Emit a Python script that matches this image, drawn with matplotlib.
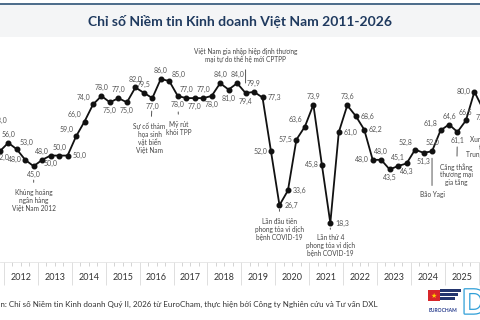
import matplotlib
matplotlib.use('Agg')
import matplotlib.pyplot as plt
from matplotlib.patches import Rectangle
import matplotlib.patheffects as pe

plt.rcParams['font.family'] = ['Lato', 'Open Sans', 'DejaVu Sans']

# Chỉ số BCI theo quý, từ Q3/2011 đến Q1/2026
nam_dau, quy_dau = 2011, 3
bci = [63.0, 52.0,
       56.0, 53.0, 48.0, 45.0,
       48.0, 50.0, 50.0, 50.0,
       59.0, 66.0, 74.0, 78.0,
       75.0, 77.0, 75.0, 82.0,
       79.5, 77.0, 86.0, 85.0,
       78.0, 77.0, 77.0, 77.0,
       78.0, 84.0, 81.0, 84.0,
       79.4, 79.9, 77.3, 52.0,
       26.7, 33.6, 57.5, 63.6,
       73.9, 45.8, 18.3, 61.0,
       73.6, 68.6, 62.2, 48.0,
       48.0, 43.5, 45.1, 46.3,
       52.8, 51.3, 52.0, 61.8,
       64.6, 61.1, 66.5, 80.0,
       72.0]
years = list(range(2011, 2027))

# vị trí nhãn số cho từng điểm
vi_tri = ['tr', 'br',
          't', 'tr', 'l', 'b',
          't', 'b', 't', 'r',
          'tl', 'tl', 'tl', 't',
          'b', 't', 'b', 't',
          't', 'b', 't', 'tr',
          'b', 't', 'b', 't',
          'b', 't', 'b', 't',
          'b', 't', 'r', 'l',
          'r', 'r', 'l', 'tl',
          't', 'l', 'r', 'r',
          't', 'r', 'r', 'l',
          't', 'b', 't', 'b',
          'tl', 'b', 't', 'tl',
          't', 'b', 't', 'l',
          'b']

# sự kiện và quý tương ứng
su_kien = ['Khủng hoảng\nngân hàng\nViệt Nam 2012',
           'Sự cố thảm\nhọa sinh\nvật biển\nViệt Nam',
           'Mỹ rút\nkhỏi TPP',
           'Việt Nam gia nhập hiệp định thương\nmại tự do thế hệ mới CPTPP',
           'Lần đầu tiên\nphong tỏa vì dịch\nbệnh COVID-19',
           'Lần thứ 4\nphong tỏa vì dịch\nbệnh COVID-19',
           'Bão Yagi',
           'Căng thẳng\nthương mại\ngia tăng',
           'Xung đột\ntại\nTrung Đông']
su_kien_quy = ['2012Q4', '2016Q2', '2017Q1', '2019Q1', '2020Q1', '2021Q3', '2024Q3', '2025Q2', '2026Q1']
# (lệch ngang, lệch dọc, khoảng hở phía chữ, khoảng hở phía điểm) tính bằng point
su_kien_kieu = [(0, -16.6, 3, 10), (-2, -17.3, 2.2, 9.4), (1, -18, 2.9, 11.5), (0, 21.6, 2.9, 7.2),
                (0, -9.4, 3, 3), (0, -8, 1.5, 3.6), (0, -28.8, 2.2, 5), (-1, -22.3, 2.9, 10.8),
                (0, -19.4, 2, 12)]

quy = []
y, q = nam_dau, quy_dau
for _ in bci:
    quy.append(f'{y}Q{q}')
    q += 1
    if q > 4:
        y, q = y + 1, 1
x = [int(s[:4]) + (int(s[-1]) - 0.5) / 4 for s in quy]

fig = plt.figure(figsize=(4.8, 3.2), dpi=100)
fig.patch.set_facecolor('white')
fig.patches.append(Rectangle((0, 1 - 37 / 320), 1, 32 / 320, transform=fig.transFigure,
                             facecolor='#f4f5f6', edgecolor='none', zorder=0))
fig.lines.append(plt.Line2D([0, 1], [1 - 4 / 320] * 2, transform=fig.transFigure,
                            color='#3d5f80', lw=1.3))
fig.text(0.5, 1 - 22 / 320, 'Chỉ số Niềm tin Kinh doanh Việt Nam 2011-2026',
         ha='center', va='center', fontsize=10, fontweight='bold', color='#1f3a5f')

ax = fig.add_axes([0, 58 / 320, 1, 222 / 320])
ax.set_facecolor('none')
for s in ['top', 'left', 'right']:
    ax.spines[s].set_visible(False)
ax.spines['bottom'].set_color('#e4e4e4')
ax.spines['bottom'].set_linewidth(0.6)
ax.set_yticks([])

ax.set_xticks(years)
ax.set_xticklabels([])
ax.set_xticks([yy + k / 4 for yy in years for k in (1, 2, 3)], minor=True)
ax.tick_params(axis='x', which='major', length=16.5, width=0.6, color='#d9d9d9')
ax.tick_params(axis='x', which='minor', length=3, width=0.6, color='#cccccc')
ax.set_xlim(2011.882, 2026.04)
ax.set_ylim(0, 104.3)
for yy in years:
    ax.text(yy + 0.5, -0.072, str(yy), transform=ax.get_xaxis_transform(),
            ha='center', va='center', fontsize=6.5, color='#333333', clip_on=False)

ax.plot(x, bci, color='#111111', lw=1.3, marker='o', ms=3.3, zorder=3)

offs = {'t': ((0, 3.5), 'center', 'bottom'), 'b': ((0, -3.5), 'center', 'top'),
        'l': ((-2.5, 0), 'right', 'center'), 'r': ((3.5, 0), 'left', 'center'),
        'tl': ((-2, 2.5), 'right', 'bottom'), 'tr': ((2, 2.5), 'left', 'bottom'),
        'br': ((2, -2), 'center', 'top')}
for xi, v, p in zip(x, bci, vi_tri):
    o, ha, va = offs[p]
    ax.annotate(f'{v:.1f}'.replace('.', ','), (xi, v), xytext=o, textcoords='offset points',
                ha=ha, va=va, fontsize=5.0, color='#555555', annotation_clip=False)

for txt, qq, (dx, dy, sa, sb) in zip(su_kien, su_kien_quy, su_kien_kieu):
    i = quy.index(qq)
    up = dy > 0
    ax.annotate(txt, xy=(x[i], bci[i]), xytext=(dx, dy), textcoords='offset points',
                ha='center', va='bottom' if up else 'top', fontsize=4.7, color='#444444',
                linespacing=1.15, annotation_clip=False,
                arrowprops=dict(arrowstyle='-', color='#555555', lw=0.7, shrinkA=sa, shrinkB=sb,
                                relpos=(0.5 - dx / 40, 0 if up else 1)))

# chú thích nguồn
fig.text(-0.039, 1 - 304 / 320,
         'Nguồn: Chỉ số Niềm tin Kinh doanh Quý II, 2026 từ EuroCham, thực hiện bởi Công ty Nghiên cứu và Tư vấn DXL',
         fontsize=5.75, color='#333333', va='center')

# logo đơn giản
fig.patches.append(Rectangle((428 / 480, 1 - 301 / 320), 12 / 480, 11 / 320,
                             transform=fig.transFigure, facecolor='#d8262a', edgecolor='none'))
fig.text(434 / 480, 1 - 296 / 320, '★', fontsize=5, color='#ffd200', ha='center', va='center',
         family='DejaVu Sans')
for y0, x1 in [(289, 461), (293, 458), (297, 455)]:
    fig.patches.append(Rectangle((440 / 480, 1 - (y0 + 3) / 320), (x1 - 440) / 480, 3 / 320,
                                 transform=fig.transFigure, facecolor='#23356e', edgecolor='none'))
fig.text(443 / 480, 1 - 311 / 320, 'EUROCHAM', fontsize=3.6, fontweight='bold', color='#2a3f8f',
         ha='center', va='center')
fig.text(462 / 480, 1 - 304 / 320, 'D', fontsize=24, color='white', fontweight='bold',
         ha='left', va='center',
         path_effects=[pe.withStroke(linewidth=1.8, foreground='#2f9fd8')])

fig.savefig('out.png', dpi=100)
